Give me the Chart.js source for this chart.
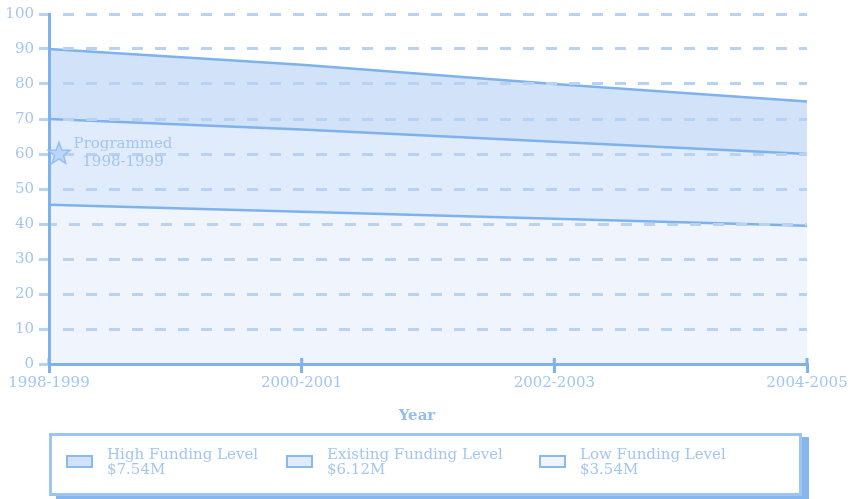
<!DOCTYPE html>
<html>
<head>
<meta charset="utf-8">
<script src="https://cdn.jsdelivr.net/npm/chart.js@4/dist/chart.umd.min.js"></script>
<style>
  html, body { margin: 0; padding: 0; background: #fff; }
  #wrap { position: relative; width: 851px; height: 499px; font-family: "DejaVu Serif", serif; }
  #wrap canvas { position: absolute; left: 0; top: 0; }
  #axisTitle {
    position: absolute; left: 0; width: 834px; top: 406px;
    text-align: center; font-weight: bold; font-size: 15px; line-height: 18px; color: #93bdf0;
  }
  #legendBox {
    position: absolute; left: 49px; top: 433px; width: 753px; height: 63px;
    box-sizing: border-box; border: 3px solid #9cc5f3;
    box-shadow: 7px 4px 0 0 #86b6ee;
  }
  .legItem { position: absolute; top: 447px; }
  .legSwatch { position: absolute; top: 8px; width: 27px; height: 13px; box-sizing: border-box; border: 2px solid #8ab9ee; }
  .legText { position: absolute; left: 41px; white-space: nowrap; font-size: 15px; line-height: 15px; color: #a3c6f1; }
</style>
</head>
<body>
<div id="wrap">
  <canvas id="fundingChart" width="851" height="499"></canvas>
  <div id="axisTitle">Year</div>
  <div id="legendBox"></div>
  <div id="legendItems"></div>
</div>
<script>
// categories and funding bands (percent)
const years = ["1998-1999", "2000-2001", "2002-2003", "2004-2005"];
const highFunding = [90, 85.5, 80, 75];
const existingFunding = [70, 67, 63.5, 60];
const lowFunding = [45.5, 43.5, 41.5, 39.5];

const seriesNames = ["High Funding Level", "Existing Funding Level", "Low Funding Level"];
const seriesTotals = ["$7.54M", "$6.12M", "$3.54M"];

const yTicks = [0, 10, 20, 30, 40, 50, 60, 70, 80, 90, 100];

// "Programmed" marker
const markerText = ["Programmed", "1998-1999"];
const markerYear = "1998-1999";
const markerValue = 60;

const lineColor = "#7db2ed";
const bandColors = ["#d2e2f9", "#e0ebfb", "#f0f5fd"];
const labelColor = "#a3c6f1";
const gridColor = "#b8d2f4";

Chart.defaults.font.family = "'DejaVu Serif', serif";
Chart.defaults.font.size = 15;
Chart.defaults.color = labelColor;

// star marker + annotation text, and tick marks crossing the x axis
const extras = {
  id: "extras",
  afterDraw(chart) {
    const ctx = chart.ctx;
    const xs = chart.scales.x;
    const ys = chart.scales.y;

    ctx.save();
    ctx.strokeStyle = lineColor;
    ctx.lineWidth = 3;
    years.forEach((_, i) => {
      const px = xs.getPixelForTick(i);
      ctx.beginPath();
      ctx.moveTo(px, ys.bottom);
      ctx.lineTo(px, ys.bottom - 6);
      ctx.stroke();
    });

    const cx = xs.getPixelForValue(years.indexOf(markerYear)) + 10;
    const cy = ys.getPixelForValue(markerValue);
    ctx.beginPath();
    for (let k = 0; k < 10; k++) {
      const r = k % 2 === 0 ? 11.5 : 4.8;
      const a = -Math.PI / 2 + k * Math.PI / 5;
      const px = cx + r * Math.cos(a);
      const py = cy + r * Math.sin(a);
      if (k === 0) ctx.moveTo(px, py); else ctx.lineTo(px, py);
    }
    ctx.closePath();
    ctx.fillStyle = "#bcd6f7";
    ctx.fill();
    ctx.lineWidth = 1.5;
    ctx.strokeStyle = "#94bef1";
    ctx.stroke();

    ctx.fillStyle = labelColor;
    ctx.font = "15px 'DejaVu Serif', serif";
    ctx.textAlign = "center";
    ctx.textBaseline = "middle";
    ctx.fillText(markerText[0], cx + 64, cy - 10);
    ctx.fillText(markerText[1], cx + 64, cy + 8);
    ctx.restore();
  }
};

new Chart(document.getElementById("fundingChart"), {
  type: "line",
  data: {
    labels: years,
    datasets: [
      { label: seriesNames[0], data: highFunding, fill: "+1", backgroundColor: bandColors[0] },
      { label: seriesNames[1], data: existingFunding, fill: "+1", backgroundColor: bandColors[1] },
      { label: seriesNames[2], data: lowFunding, fill: "origin", backgroundColor: bandColors[2] }
    ].map(ds => Object.assign(ds, {
      borderColor: lineColor,
      borderWidth: 2.5,
      pointRadius: 0,
      tension: 0
    }))
  },
  options: {
    responsive: false,
    animation: false,
    layout: { padding: { top: 14, right: 44, bottom: 69, left: 0 } },
    plugins: {
      legend: { display: false },
      tooltip: { enabled: false },
      filler: { drawTime: "beforeDatasetsDraw" }
    },
    scales: {
      x: {
        offset: false,
        border: { color: lineColor, width: 3, z: 2 },
        grid: {
          drawOnChartArea: false,
          color: lineColor,
          lineWidth: 3,
          tickLength: 9,
          z: 2
        },
        ticks: { padding: 1, maxRotation: 0, autoSkip: false, color: labelColor },
        afterFit(scale) { scale.height = 66; }
      },
      y: {
        min: 0,
        max: 100,
        afterBuildTicks(scale) { scale.ticks = yTicks.map(v => ({ value: v })); },
        border: {
          color: lineColor,
          width: 3,
          z: 2,
          dash: [11, 12],
          dashOffset: c => (c.tick && c.tick.value === 40 ? 5 : 11)
        },
        grid: {
          z: 1,
          color: c => (c.tick && c.tick.value === 0 ? "rgba(0,0,0,0)" : gridColor),
          lineWidth: 3,
          tickColor: gridColor,
          tickLength: 10,
          tickWidth: 3,
          tickBorderDash: []
        },
        ticks: { padding: 5, color: labelColor },
        afterFit(scale) { scale.width = 49; }
      }
    }
  },
  plugins: [extras]
});

// legend with totals
const legendLefts = [66, 286, 539];
const holder = document.getElementById("legendItems");
seriesNames.forEach((name, i) => {
  const item = document.createElement("div");
  item.className = "legItem";
  item.style.left = legendLefts[i] + "px";
  const sw = document.createElement("div");
  sw.className = "legSwatch";
  sw.style.background = bandColors[i];
  const tx = document.createElement("div");
  tx.className = "legText";
  tx.innerHTML = name + "<br>" + seriesTotals[i];
  item.appendChild(sw);
  item.appendChild(tx);
  holder.appendChild(item);
});
</script>
</body>
</html>
